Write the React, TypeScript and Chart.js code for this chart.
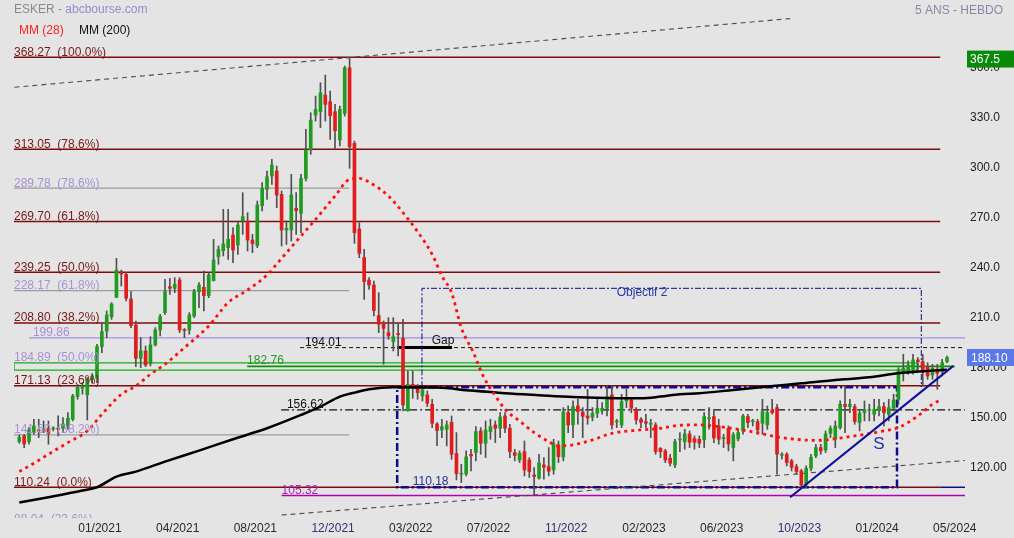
import { useEffect, useRef } from "react";
import { Chart, registerables } from "chart.js";

Chart.register(...registerables);

// ---------- DATA (weekly candles) ----------
const OPEN = [
  137.6, 141, 137.6, 143.6, 144.5, 144, 145.6, 145.2, 145.5, 145.6,
  147.6, 151, 164.6, 169.6, 165.6, 175, 175.6, 194.6, 204, 212.6,
  224.2, 239.6, 238, 223.2, 207.6, 187.6, 192, 184.6, 195.6, 204.6,
  215, 230.6, 229.6, 234.6, 204.6, 204.6, 213, 227.6, 230.2, 225.2,
  234.2, 248.6, 252.2, 254, 261.6, 255.6, 270, 270, 258.6, 255.2,
  279.2, 289, 297, 300, 286, 264.6, 264.6, 277.6, 274.6, 295.6,
  312.6, 333.6, 335.6, 345.6, 341.6, 335.6, 318.6, 334.6, 362, 316.6,
  265.2, 248, 234.6, 231.6, 213.2, 208.6, 203, 197.6, 202.2, 199.6,
  156, 172, 171, 165, 165.6, 160, 148.2, 144.6, 145, 149.2,
  130.4, 118, 118.2, 130, 131, 144, 136.6, 143.6, 147.6, 145.6,
  153, 145.6, 131, 126.6, 131.6, 126.6, 117.6, 115.6, 123.6, 122.6,
  120.6, 135.6, 128.4, 155, 147.6, 159, 155.4, 153, 152.2, 154.6,
  156, 157.6, 165.6, 149.4, 147.6, 162, 162.6, 156.6, 151, 149.6,
  148, 147.6, 133.6, 132, 127.6, 123.6, 138.6, 137.6, 142.2, 139.4,
  139, 138.6, 151.4, 152.6, 147, 139.4, 145.6, 134, 139.2, 144,
  152.6, 149.6, 149.6, 148.6, 147.6, 156.6, 158, 129.4, 130, 126,
  122.6, 120, 111.6, 121.6, 129, 134, 132.6, 142.6, 139, 146,
  160, 158.6, 158.6, 149, 155, 156.4, 154, 156.6, 158.6, 154,
  157.6, 163, 179.2, 180.6, 181, 186.6, 185.6, 182.6, 177.6, 181,
  179.6, 185.6,
];
const HIGH = [
  141.6, 142, 146, 151, 151, 150, 150, 146.5, 153, 152,
  155, 166, 172, 173, 176, 178.5, 196, 208, 216, 221,
  247.6, 240.5, 239, 227.6, 210, 200, 195, 200.6, 206, 214,
  235, 235.6, 236, 236, 205.5, 215, 229, 233, 240, 239,
  259, 255, 277, 277, 266, 270, 287, 275, 262, 282,
  293, 300, 307, 303, 288, 270, 298, 287, 298, 325,
  335, 345, 353, 357.6, 348, 340, 339, 363, 368.27, 318,
  269, 253, 236, 234, 227, 210, 212, 212, 208, 211,
  180, 180, 172, 170, 168, 163, 149, 151, 150, 153,
  143, 124, 132, 133, 146.6, 146, 150, 151, 150, 155,
  155, 148, 133, 132, 138, 128, 122, 130, 128, 134,
  139, 138, 158, 159, 162, 163, 158, 169, 158, 163,
  161, 171, 171, 151, 166, 169, 164, 158, 152, 154,
  151, 149, 134, 133, 130, 139, 143, 145, 144, 141,
  141, 155, 158, 156, 151, 142, 147, 143, 145, 154,
  154, 151, 151, 163, 159, 163, 160, 131, 131, 127,
  124, 121, 123, 130, 136, 136, 144, 147, 150, 162,
  171, 163, 160, 156, 162, 160, 163, 163, 161, 163,
  166, 182, 190, 186, 190, 188, 190, 185, 184, 184,
  187, 189,
];
const LOW = [
  136.6, 134, 136, 142, 140, 143, 136, 144, 141, 143,
  145, 150, 163, 166, 150.6, 173, 173, 191, 200, 211,
  224, 231, 222, 206, 182.6, 182, 182.6, 183, 195, 201,
  214, 226, 227, 203, 200, 202, 212, 218, 216, 224,
  234, 244, 249, 247, 245, 250, 262, 252, 251, 254,
  276, 283, 292, 278, 255, 256, 258, 262, 263, 294,
  310, 330, 326, 330, 319, 313.6, 315, 333, 301.6, 256.6,
  248, 223, 229, 213, 203, 184, 199, 192, 189, 156,
  156, 163.6, 163, 162, 158.6, 146, 135.2, 140, 135, 127,
  114.6, 113, 117, 120, 126, 130, 128, 139, 137, 140,
  143, 128, 126, 125, 117, 116, 105.3, 115, 115, 117,
  118, 125, 126, 143, 140, 148, 140, 148, 150, 152,
  154, 153, 145, 146, 146, 158, 155, 148, 146, 146,
  140, 130, 128, 125, 123, 122, 131.6, 133, 134, 133,
  134, 134, 145, 137, 136, 134, 132, 126, 138, 142,
  146, 147, 142, 142, 145, 154, 118, 127, 123, 120,
  118, 110.2, 110, 120, 128, 130, 131, 140, 134, 145,
  143, 155, 148, 144, 150, 150, 150, 153, 147, 150,
  156, 160, 174, 178, 178, 180, 171, 175, 175, 169,
  177, 185,
];
const CLOSE = [
  140.2, 136.2, 144.6, 147, 144, 145, 142.6, 145.8, 145, 148.2,
  151.6, 165, 170.2, 171, 174.6, 177, 194.6, 203.6, 213.6, 220.2,
  240.6, 238.2, 223.6, 207.2, 187.6, 192.2, 183.6, 195.6, 204.6, 212.6,
  227.6, 229.6, 232, 204.6, 204.2, 213.6, 227.6, 231.6, 225.2, 237.6,
  246.6, 253, 256.2, 259, 252.6, 267.6, 272.6, 258.6, 256.4, 279.6,
  289.6, 296.6, 303.6, 285.6, 264.6, 265.6, 285.6, 276.2, 295.6, 312.6,
  330.6, 337, 347, 340, 333.2, 324.2, 337, 362, 314.6, 263,
  250.6, 233.6, 231.6, 216.2, 208, 205.6, 201, 200.6, 201.8, 159.6,
  172, 170.2, 167, 168.6, 160.6, 148.6, 144.2, 146.5, 147.6, 130,
  118.4, 118.6, 128.4, 129, 143.6, 136.6, 144.6, 146.6, 145.6, 152.4,
  145.6, 131.6, 129.3, 130.6, 120.6, 119.6, 116.6, 124.8, 122.2, 119.8,
  136.4, 128.6, 155.4, 147.6, 158.6, 155.6, 152.8, 151.8, 154.6, 157.6,
  157.6, 164.6, 147.6, 149.8, 161.6, 163.4, 157.6, 150.6, 149.2, 148.6,
  148.8, 131.6, 131.6, 126.6, 124.6, 137.6, 139.2, 142.2, 137.2, 137.2,
  136.6, 152.6, 151.8, 139.8, 139, 139.8, 136.2, 141.6, 143, 153,
  149, 150.2, 144.6, 155.6, 155, 155, 130, 129.8, 125, 122.2,
  119.6, 111.6, 121.6, 128.2, 134, 132, 142.2, 145.6, 147, 160,
  158.6, 160, 149.6, 154.6, 156.6, 156.8, 157, 158.6, 155, 158,
  162.6, 180.6, 181.6, 183.6, 186.6, 185.6, 180.6, 177, 181.6, 178.6,
  185, 188.1,
];

// Moving averages, read at sample weeks
const MA28_WEEK = [0, 3, 6, 10, 14, 17, 21, 24, 27, 30, 34, 39, 43, 47, 51, 54, 58, 61, 65, 68, 70, 73, 76, 79, 82, 85, 87, 89, 91, 93.5, 95.5, 97.6, 100, 103, 106, 109, 111, 114, 118, 122, 128, 132, 136, 140, 144, 150, 157, 164, 171, 178, 181, 185, 188, 190];
const MA28_VALUE = [119.6, 124.6, 130, 137, 144, 154, 166, 171, 178, 184, 194, 207, 221, 228.6, 237.6, 247.6, 261, 271, 285, 295, 295.6, 291.6, 285, 275, 263.6, 250, 237, 227, 206, 191, 177, 167, 157, 150, 143, 137.6, 135, 135.6, 138.6, 142.6, 144.6, 145.6, 147.4, 147.6, 146.6, 144, 140, 138.3, 140.6, 144, 146, 153, 160, 163];
const MA200_WEEK = [0, 6, 13, 16, 20, 24, 30, 37, 44, 51, 58, 62, 66, 69, 72, 77, 86, 93, 100, 107, 114, 121, 128, 132, 136, 140, 147, 154, 161, 168, 175, 181, 188, 191];
const MA200_VALUE = [101, 104.2, 108.2, 110.2, 116.6, 119.6, 125.6, 132.2, 139, 145.6, 153.6, 158.6, 164.6, 167, 169, 170.2, 170, 168.2, 166.6, 165.4, 164.3, 163.8, 163.6, 164.6, 166, 166.6, 168.6, 170.6, 172.6, 174.6, 176.2, 178.6, 180.2, 180.8];

const X_TICK_LABELS = ["01/2021", "04/2021", "08/2021", "12/2021", "03/2022", "07/2022", "11/2022", "02/2023", "06/2023", "10/2023", "01/2024", "05/2024"];
const Y_TICKS = [120, 150, 180, 210, 240, 270, 300, 330, 360];

const FIB_MAIN = [368.27, 313.05, 269.7, 239.25, 208.8, 171.13, 110.24];
const FIB_MAIN_PCT = ["100.0%", "78.6%", "61.8%", "50.0%", "38.2%", "23.6%", "0.0%"];
const FIB_SEC = [289.78, 228.17, 184.89, 141.6, 88.04];
const FIB_SEC_PCT = ["78.6%", "61.8%", "50.0%", "38.2%", "23.6%"];

const LEVEL_PURPLE = 199.86;
const LEVEL_GAP = 194.01;
const LEVEL_GREEN = 182.76;
const GREEN_ZONE_LOW = 180.5;
const LEVEL_DASHDOT = 156.62;
const LEVEL_MAGENTA = 105.32;
const BOX_LOW = 110.18;
const BOX_HIGH = 170.2;
const OBJ_HIGH = 229.6;
const LAST_PRICE = 188.1;
const TOP_PRICE = 367.5;

// trend lines: [week, value] pairs
const TREND_UPPER = [[-1.0, 350.3], [158.7, 391.5]];
const TREND_LOWER = [[54.0, 93.5], [194.7, 126.25]];
const TREND_S = [[158.7, 104.2], [192.3, 183.0]];

// ---------- layout constants ----------
const X_MIN = -1.09;
const X_MAX = 194.7;
const Y_MIN = 91.74;
const Y_MAX = 402.66;
const X_FIB_END = 189.6;
const X_GRAY_END = 67.9;
const X_TICK_START = 16.6;
const FONT = "'Liberation Sans', Arial, Helvetica, sans-serif";

const GREEN = "#1f9c1f";
const RED = "#e01c1c";
const DARK_RED = "#7d0c0c";
const NAVY = "#0d0d8a";
const LAV = "#a690d8";

function seg(points: number[][], color: string, width: number, dash: number[] = [], order = 20) {
  return {
    type: "line" as const,
    data: points.map(([x, y]) => ({ x, y })),
    borderColor: color,
    borderWidth: width,
    borderDash: dash,
    pointRadius: 0,
    pointHitRadius: 0,
    fill: false,
    tension: 0,
    order,
  };
}

export default function App() {
  const ref = useRef<HTMLCanvasElement>(null);

  useEffect(() => {
    const idx = OPEN.map((_, i) => i);
    const datasets: any[] = [];

    FIB_MAIN.forEach((v) => datasets.push(seg([[X_MIN, v], [X_FIB_END, v]], DARK_RED, 1.5, [], 30)));
    [FIB_SEC[0], FIB_SEC[1], FIB_SEC[3]].forEach((v) => datasets.push(seg([[X_MIN, v], [X_GRAY_END, v]], "#9c9c9c", 1.2, [], 30)));
    datasets.push(seg([[2.0, LEVEL_PURPLE], [X_MAX, LEVEL_PURPLE]], "#a98fe6", 1.2, [], 30));
    datasets.push(seg([[57.8, LEVEL_GAP], [X_MAX, LEVEL_GAP]], "#111", 1, [4, 3], 30));
    datasets.push(seg([[77.8, LEVEL_GAP], [89.1, LEVEL_GAP]], "#000", 3, [], 29));
    datasets.push(seg([[53.9, LEVEL_DASHDOT], [X_MAX, LEVEL_DASHDOT]], "#111", 1.2, [8, 3, 2, 3], 30));
    datasets.push(seg([[54.0, LEVEL_MAGENTA], [X_MAX, LEVEL_MAGENTA]], "#b000b0", 1.5, [], 30));
    datasets.push(seg([[X_FIB_END, BOX_LOW], [X_MAX, BOX_LOW]], NAVY, 1.5, [], 30));
    datasets.push(seg([[X_MIN, FIB_SEC[2]], [184.8, FIB_SEC[2]], [184.8, GREEN_ZONE_LOW], [X_MIN, GREEN_ZONE_LOW], [X_MIN, FIB_SEC[2]]], "#12b012", 1.3, [], 28));
    datasets.push(seg([[46.9, LEVEL_GREEN], [192.6, LEVEL_GREEN]], "#118a11", 1.6, [], 28));
    datasets.push(seg([[82.9, BOX_HIGH], [82.9, OBJ_HIGH], [185.7, OBJ_HIGH], [185.7, BOX_HIGH]], NAVY, 1, [6, 2, 2, 2], 27));
    datasets.push(seg([[77.8, BOX_HIGH], [180.7, BOX_HIGH], [180.7, BOX_LOW], [77.8, BOX_LOW], [77.8, BOX_HIGH]], NAVY, 2.5, [8, 3, 2, 3], 27));
    datasets.push(seg(TREND_UPPER, "#4a4a5a", 1.1, [5, 4], 26));
    datasets.push(seg(TREND_LOWER, "#4a4a4a", 1.1, [5, 4], 26));

    datasets.push({
      type: "bar",
      data: idx.map((i) => ({ x: i, y: [LOW[i], HIGH[i]] })),
      backgroundColor: "#505050",
      barThickness: 1,
      grouped: false,
      order: 12,
    });
    datasets.push({
      type: "bar",
      data: idx.map((i) => ({ x: i, y: [OPEN[i], CLOSE[i]] })),
      backgroundColor: idx.map((i) => (CLOSE[i] >= OPEN[i] ? GREEN : RED)),
      barThickness: 3,
      minBarLength: 1,
      grouped: false,
      order: 11,
    });

    datasets.push({
      type: "line",
      data: MA200_WEEK.map((w, k) => ({ x: w, y: MA200_VALUE[k] })),
      borderColor: "#000",
      borderWidth: 2.5,
      pointRadius: 0,
      pointHitRadius: 0,
      fill: false,
      cubicInterpolationMode: "monotone",
      order: 5,
    });
    datasets.push({
      type: "line",
      data: MA28_WEEK.map((w, k) => ({ x: w, y: MA28_VALUE[k] })),
      borderColor: "#ff1010",
      borderWidth: 2.8,
      borderDash: [3, 4],
      pointRadius: 0,
      pointHitRadius: 0,
      fill: false,
      cubicInterpolationMode: "monotone",
      order: 4,
    });
    datasets.push(seg(TREND_S, "#10109a", 2.2, [], 3));

    const annot = {
      id: "annot",
      afterDatasetsDraw(chart: any) {
        const { ctx, chartArea } = chart;
        const xs = chart.scales.x;
        const ys = chart.scales.y;
        const px = (w: number) => xs.getPixelForValue(w);
        const py = (v: number) => ys.getPixelForValue(v);
        ctx.save();
        ctx.beginPath();
        ctx.rect(0, chartArea.top, chartArea.right, chartArea.bottom - chartArea.top);
        ctx.clip();
        ctx.textBaseline = "alphabetic";
        ctx.textAlign = "left";
        const t = (s: string, x: number, y: number, c: string, f = `12px ${FONT}`) => {
          ctx.fillStyle = c;
          ctx.font = f;
          ctx.fillText(s, x, y);
        };
        FIB_MAIN.forEach((v, k) => t(`${v.toFixed(2)}  (${FIB_MAIN_PCT[k]})`, chartArea.left, py(v) - 1.5, "#7a1616"));
        FIB_SEC.forEach((v, k) => t(`${v.toFixed(2)}  (${FIB_SEC_PCT[k]})`, chartArea.left, py(v) - 1.5, LAV));
        t(LEVEL_PURPLE.toFixed(2), px(2.8), py(LEVEL_PURPLE) - 2, LAV);
        t(LEVEL_GAP.toFixed(2), px(58.8), py(LEVEL_GAP) - 2, "#111");
        t("Gap", px(84.9), py(LEVEL_GAP) - 3.5, "#111");
        t(LEVEL_GREEN.toFixed(2), px(46.9), py(LEVEL_GREEN) - 2, "#2a962a");
        t(LEVEL_DASHDOT.toFixed(2), px(55.1), py(LEVEL_DASHDOT) - 2, "#111");
        t(LEVEL_MAGENTA.toFixed(2), px(54.0), py(LEVEL_MAGENTA) - 1.5, "#b020b0");
        t(BOX_LOW.toFixed(2), px(81.0), py(BOX_LOW) - 2.5, "#1f2f9f");
        t("Objectif 2", px(123.0), py(OBJ_HIGH) + 8, "#2636a6");
        t("S", px(175.8), py(133.2), "#2030a8", `17px ${FONT}`);
        ctx.restore();
      },
      afterDraw(chart: any) {
        const { ctx } = chart;
        const ys = chart.scales.y;
        ctx.save();
        ctx.textBaseline = "alphabetic";
        ctx.textAlign = "left";
        ctx.font = `12px ${FONT}`;
        ctx.fillStyle = "#8a8a8a";
        ctx.fillText("ESKER - ", 14, 13);
        const w = ctx.measureText("ESKER - ").width;
        ctx.fillStyle = "#9c88cc";
        ctx.fillText("abcbourse.com", 14 + w, 13);
        ctx.fillStyle = "#ff2020";
        ctx.fillText("MM (28)", 19, 33.5);
        ctx.fillStyle = "#111";
        ctx.fillText("MM (200)", 79, 33.5);
        ctx.fillStyle = "#8c86a4";
        ctx.textAlign = "right";
        ctx.fillText("5 ANS - HEBDO", 1003, 14);
        ctx.textAlign = "left";
        const yt = ys.getPixelForValue(TOP_PRICE);
        ctx.fillStyle = "#0a8a0a";
        ctx.fillRect(967, yt - 8, 47, 17);
        ctx.fillStyle = "#fff";
        ctx.fillText(TOP_PRICE.toFixed(1), 970, yt + 4.5);
        const yl = ys.getPixelForValue(LAST_PRICE);
        ctx.fillStyle = "#5a78e6";
        ctx.fillRect(967, yl - 8.5, 47, 17);
        ctx.fillStyle = "#fff";
        ctx.fillText(LAST_PRICE.toFixed(2), 971, yl + 4.5);
        ctx.restore();
      },
    };

    const chart = new Chart(ref.current!, {
      type: "bar",
      data: { datasets },
      plugins: [annot],
      options: {
        animation: false,
        responsive: false,
        maintainAspectRatio: false,
        events: [],
        layout: { autoPadding: false, padding: { left: 14, top: 0, right: 0, bottom: 0 } },
        plugins: { legend: { display: false }, tooltip: { enabled: false } },
        scales: {
          x: {
            type: "linear",
            offset: false,
            min: X_MIN,
            max: X_MAX,
            grid: { display: false, offset: false, drawTicks: false },
            border: { display: false },
            afterBuildTicks: (s: any) => {
              s.ticks = X_TICK_LABELS.map((_, k) => ({ value: X_TICK_START + 16 * k }));
            },
            afterFit: (s: any) => {
              s.height = 20;
              s.paddingLeft = 0;
              s.paddingRight = 0;
            },
            ticks: {
              autoSkip: false,
              maxRotation: 0,
              minRotation: 0,
              padding: 3,
              font: { family: FONT, size: 12 },
              color: (c: any) => ([3, 6, 9].includes(c.index) ? "#3a2e6e" : "#2a2a2a"),
              callback: (_v: any, i: number) => X_TICK_LABELS[i],
            },
          },
          y: {
            type: "linear",
            position: "right",
            min: Y_MIN,
            max: Y_MAX,
            grid: { display: false, drawTicks: false },
            border: { display: false },
            afterBuildTicks: (s: any) => {
              s.ticks = Y_TICKS.map((v) => ({ value: v }));
            },
            afterFit: (s: any) => {
              s.width = 49;
              s.paddingTop = 0;
              s.paddingBottom = 0;
            },
            ticks: {
              padding: 5,
              labelOffset: -3.5,
              font: { family: FONT, size: 12 },
              color: "#222",
              callback: (v: any) => (Number(v) >= 200 ? Number(v).toFixed(1) : Number(v).toFixed(2)),
            },
          },
        },
      } as any,
    });
    return () => chart.destroy();
  }, []);

  return (
    <div style={{ position: "fixed", left: 0, top: 0, width: 1014, height: 538, background: "#e4e4e4" }}>
      <canvas ref={ref} width={1014} height={538} style={{ display: "block" }} />
    </div>
  );
}
